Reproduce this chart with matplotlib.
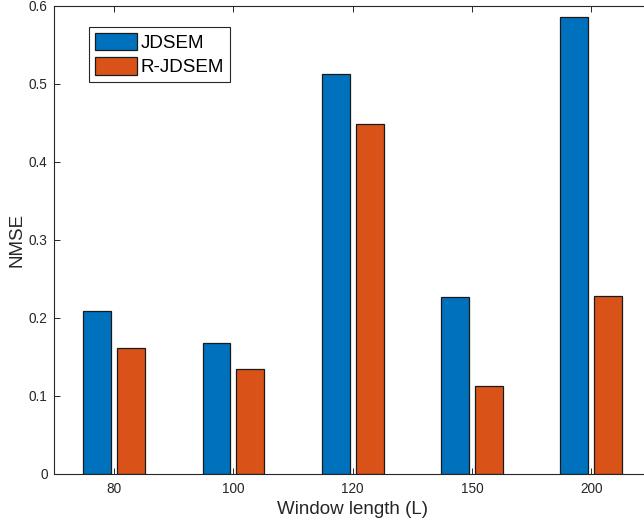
"""NMSE vs window length: JDSEM vs R-JDSEM grouped bars."""

import numpy as np
import matplotlib

matplotlib.use("Agg")
import matplotlib.pyplot as plt

categories = ["80", "100", "120", "150", "200"]
jdsem = [0.208, 0.167, 0.512, 0.226, 0.585]
r_jdsem = [0.161, 0.134, 0.448, 0.112, 0.228]

plt.rcParams["font.family"] = ["Liberation Sans", "DejaVu Sans"]

fig = plt.figure(figsize=(6.44, 5.27), dpi=100)
ax = fig.add_axes([54.5 / 644, 1 - 473.5 / 527, (651 - 54.5) / 644, 468 / 527])

x = np.arange(1, len(categories) + 1)
w = 0.234
off = 0.142
ax.bar(x - off, jdsem, w, color="#0072BD", edgecolor="#1a1a1a", linewidth=0.9, label="JDSEM")
ax.bar(x + off, r_jdsem, w, color="#D95319", edgecolor="#1a1a1a", linewidth=0.9, label="R-JDSEM")

ax.set_xlim(0.5, 5.5)
ax.set_ylim(0, 0.6)
ax.set_xticks(x)
ax.set_xticklabels(categories)
ax.set_yticks(np.arange(0, 0.61, 0.1))
ax.set_yticklabels(["0", "0.1", "0.2", "0.3", "0.4", "0.5", "0.6"])

for s in ax.spines.values():
    s.set_color("#262626")
    s.set_linewidth(0.8)
ax.tick_params(direction="in", length=4.3, width=0.7, colors="#262626",
               labelsize=9.8, top=True, right=True, pad=6)
ax.tick_params(axis="y", pad=5)

ax.set_xlabel("Window length (L)", fontsize=13.5, color="#262626", labelpad=4)
ax.set_ylabel("NMSE", fontsize=13.5, color="#262626", labelpad=2)

leg = ax.legend(loc="upper left", bbox_to_anchor=(0.0578, 0.954), borderaxespad=0,
                fontsize=13.5, frameon=True, fancybox=False, framealpha=1,
                handlelength=2.25, handleheight=1.05, handletextpad=0.2,
                labelspacing=0.3, borderpad=0.3)
leg.get_frame().set_edgecolor("#262626")
leg.get_frame().set_linewidth(0.8)

fig.savefig("out.png", dpi=100)
